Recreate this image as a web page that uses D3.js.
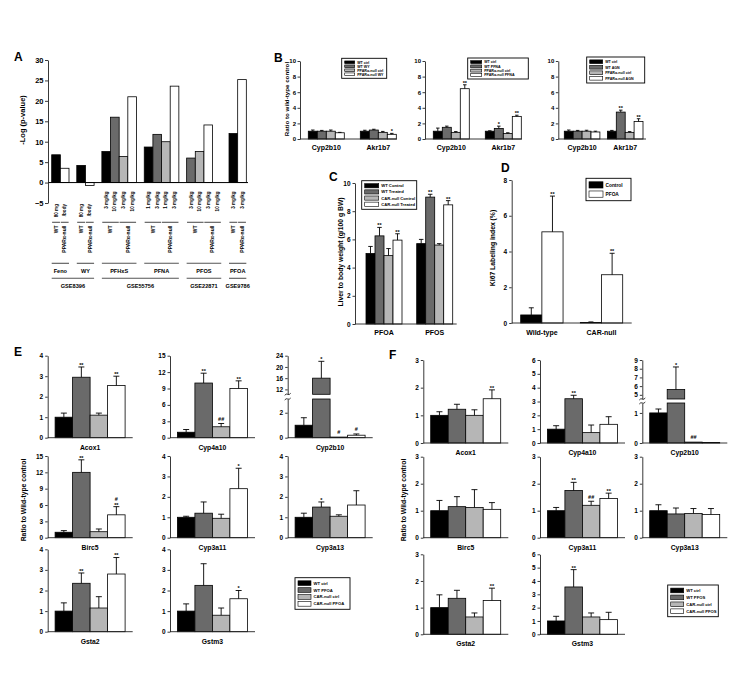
<!DOCTYPE html>
<html><head><meta charset="utf-8">
<script src="https://cdn.jsdelivr.net/npm/d3@7"></script>
<style>body{margin:0;background:#fff}</style>
</head><body><svg id="c" width="748" height="689"></svg>
<script>
// ---------------- DATA ----------------
// Panel A
const aCompounds = ["Feno","WY","PFHxS","PFNA","PFOS","PFOA"];
const aDatasetOf = ["GSE8396","GSE8396","GSE55756","GSE55756","GSE22871","GSE9786"];
const aSlotGeno = [["WT","PPARα-null"],["WT","PPARα-null"],["WT","WT","PPARα-null","PPARα-null"],["WT","WT","PPARα-null","PPARα-null"],["WT","WT","PPARα-null","PPARα-null"],["WT","PPARα-null"]];
const aDoses = [["80 mg","/body"],["80 mg","/body"],["3 mg/kg","10 mg/kg","3 mg/kg","10 mg/kg"],["1 mg/kg","3 mg/kg","1 mg/kg","3 mg/kg"],["3 mg/kg","10 mg/kg","3 mg/kg","10 mg/kg"],["3 mg/kg","3 mg/kg"]];
const aValues = [[6.8,3.5],[4.2,-0.7],[7.6,16,6.4,21],[8.7,11.8,10,23.6],[6,7.6,14.1,null],[12,25.2]];
const aSeries = [["k","w"],["k","w"],["k","d","l","w"],["k","d","l","w"],["d","l","w",null],["k","w"]];
const aTicks = [-5,0,5,10,15,20,25,30];

// Panel B
const bTreat = ["WY","PFNA","AGN"];
const bGenes = ["Cyp2b10","Akr1b7"];
const bMeans = [
  [[1.0,1.0,1.0,0.8],[1.0,1.15,0.85,0.6]],
  [[1.0,1.5,0.85,6.45],[1.0,1.35,0.7,2.9]],
  [[1.0,1.0,1.0,0.9],[1.0,3.45,0.85,2.25]]
];
const bErr = [
  [[0.15,0.1,0.15,0.05],[0.12,0.1,0.12,0.12]],
  [[0.4,0.15,0.1,0.5],[0.05,0.3,0.1,0.15]],
  [[0.15,0.1,0.12,0.1],[0.1,0.25,0.1,0.35]]
];
const bSig = [
  [["","","",""],["","","","*"]],
  [["","","","**"],["","*","","**"]],
  [["","","",""],["","**","","**"]]
];
const bTicks = [0,2,4,6,8,10];

// Panel C
const cCats = ["PFOA","PFOS"];
const cMeans = [[5.0,6.25,4.85,5.95],[5.7,9.0,5.6,8.45]];
const cErr = [[0.5,0.6,0.5,0.45],[0.3,0.2,0.1,0.3]];
const cSig = [["","**","","**"],["","**","","**"]];
const cLegend = ["WT Control","WT Treated","CAR-null Control","CAR-null Treated"];
const cTicks = [0,2,4,6,8,10];

// Panel D
const dCats = ["Wild-type","CAR-null"];
const dMeans = [[0.45,5.1],[0.03,2.7]];
const dErr = [[0.4,2.0],[0.03,1.2]];
const dSig = [["","**"],["","**"]];
const dLegend = ["Control","PFOA"];
const dTicks = [0,2,4,6,8];

// Panel E (PFOA)
const eGenes = ["Acox1","Cyp4a10","Cyp2b10","Birc5","Cyp3a11","Cyp3a13","Gsta2","Gstm3"];
const eMeans = [[1.0,2.95,1.1,2.55],[1.0,10.0,2.0,9.0],[1.0,16,0.05,0.2],[1.0,12,1.1,4.2],[1.0,1.2,0.95,2.4],[1.0,1.5,1.05,1.6],[1.0,2.35,1.15,2.8],[1.0,2.25,0.8,1.6]];
const eErr = [[0.2,0.5,0.1,0.45],[0.5,1.8,0.6,1.4],[0.6,6,0,0.1],[0.3,2.3,0.5,1.5],[0.05,0.55,0.2,1.0],[0.2,0.25,0.07,0.7],[0.4,0.5,0.55,0.8],[0.35,1.05,0.35,0.4]];
const eSig = [["","**","","**"],["","**","##","**"],["","*","#","#"],["","**","","#\n**"],["","","","*"],["","*","",""],["","**","","**"],["","","","*"]];
const eTicks = [[0,1,2,3,4],[0,3,6,9,12,15],null,[0,3,6,9,12,15],[0,1,2,3,4],[0,1,2,3,4],[0,1,2,3,4],[0,1,2,3,4]];
const eBrokenLowTicks = [0,2], eBrokenUpTicks = [12,16,20,24];
const eLegend = ["WT ctrl","WT PFOA","CAR-null ctrl","CAR-null PFOA"];

// Panel F (PFOS)
const fGenes = ["Acox1","Cyp4a10","Cyp2b10","Birc5","Cyp3a11","Cyp3a13","Gsta2","Gstm3"];
const fMeans = [[1.0,1.22,1.0,1.6],[1.0,3.2,0.75,1.35],[1.0,5.6,0.03,0.02],[1.0,1.15,1.12,1.05],[1.0,1.75,1.2,1.45],[1.0,0.88,0.9,0.86],[1.0,1.35,0.65,1.27],[1.0,3.55,1.3,1.1]];
const fErr = [[0.13,0.18,0.2,0.32],[0.25,0.25,0.55,0.55],[0.13,2.6,0,0],[0.38,0.37,0.66,0.25],[0.12,0.3,0.15,0.2],[0.22,0.22,0.18,0.22],[0.48,0.3,0.15,0.46],[0.35,1.3,0.3,0.55]];
const fSig = [["","","","**"],["","**","",""],["","*","##",""],["","","",""],["","**","##","**"],["","","",""],["","","","**"],["","**","",""]];
const fTicks = [[0,1,2,3],[0,1,2,3,4,5,6],null,[0,1,2,3],[0,1,2,3],[0,1,2,3],[0,1,2,3],[0,1,2,3,4,5,6]];
const fBrokenLowTicks = [0,1], fBrokenUpTicks = [5,6,7,8,9];
const fLegend = ["WT ctrl","WT PFOS","CAR-null ctrl","CAR-null PFOS"];

const series4 = ["k","d","l","w"];

// ---------------- DRAWING ----------------
const FONT = '"Liberation Sans", Arial, Helvetica, sans-serif';
const svg = d3.select("#c");
svg.append("rect").attr("width",748).attr("height",689).attr("fill","#fff");
const fill = d3.scaleOrdinal().domain(["k","d","l","w"]).range(["#000000","#6a6a6a","#b6b6b6","#ffffff"]);
const AX = "#222";

function txt(g, x, y, s, fs, anchor, rot) {
  const t = g.append("text").attr("font-family",FONT).attr("font-weight","bold")
    .attr("font-size",fs).attr("text-anchor",anchor||"middle").attr("fill","#000").text(s);
  if (rot) t.attr("transform",`translate(${x},${y}) rotate(${rot})`); else t.attr("x",x).attr("y",y);
  return t;
}
function hline(g,x1,x2,y,c,w){g.append("line").attr("x1",x1).attr("x2",x2).attr("y1",y).attr("y2",y).attr("stroke",c||AX).attr("stroke-width",w||0.9);}
function yAxis(g, y, x0, ticks, fs, pad) {
  const a = g.append("g").attr("transform",`translate(${x0},0)`)
    .call(d3.axisLeft(y).tickValues(ticks).tickSize(2.5).tickSizeOuter(0).tickPadding(pad==null?2:pad).tickFormat(d3.format("d")));
  a.select(".domain").attr("stroke",AX).attr("stroke-width",0.9);
  a.selectAll(".tick line").attr("stroke",AX).attr("stroke-width",0.9);
  a.selectAll(".tick text").attr("font-family",FONT).attr("font-weight","bold").attr("font-size",fs).attr("fill","#000");
  return a;
}
function sigText(g, cx, yTop, s, fs) {
  if (!s) return;
  const lines = s.split("\n").reverse();
  let yy = yTop;
  lines.forEach(l => {
    const isHash = l.indexOf("#")>=0;
    const base = isHash ? yy - 1.2 : yy + fs*0.25;
    txt(g, cx, base, l, fs);
    yy -= isHash ? fs*0.85 : fs*0.55;
  });
}
function drawBars(g, data, xOf, bw, y, capW, sigFs) {
  data.forEach(d => {
    if (d.v == null) return;
    const x = xOf(d);
    g.append("rect").attr("x",x).attr("width",bw)
      .attr("y",y(Math.max(0,d.v))).attr("height",Math.max(0.01,Math.abs(y(d.v)-y(0))))
      .attr("fill",fill(d.s)).attr("stroke","#000").attr("stroke-width",0.8);
    const cx = x + bw/2;
    let top = y(d.v);
    if (d.e > 0) {
      top = y(d.v + d.e);
      g.append("line").attr("x1",cx).attr("x2",cx).attr("y1",y(d.v)).attr("y2",top).attr("stroke","#000").attr("stroke-width",0.9);
      g.append("line").attr("x1",cx-capW/2).attr("x2",cx+capW/2).attr("y1",top).attr("y2",top).attr("stroke","#000").attr("stroke-width",0.9);
    }
    sigText(g, cx, top - 1.5, d.sig, sigFs);
  });
}
function legend(g, x, y, w, h, labels, keys, fs, sw) {
  const lg = g.append("g");
  lg.append("rect").attr("x",x).attr("y",y).attr("width",w).attr("height",h).attr("fill","#fff").attr("stroke","#000").attr("stroke-width",0.9);
  const rows = labels.length, rh = (h-4)/rows, sh = rh*0.68;
  labels.forEach((l,i) => {
    const cy = y + 2 + rh*(i+0.5);
    lg.append("rect").attr("x",x+3).attr("y",cy-sh/2).attr("width",sw).attr("height",sh)
      .attr("fill",fill(keys[i])).attr("stroke","#000").attr("stroke-width",0.6);
    txt(lg, x+3+sw+2.5, cy+fs*0.35, l, fs, "start");
  });
}
// grouped chart used in B, C, D
function groupedChart(o) {
  const g = svg.append("g");
  const y = d3.scaleLinear().domain([0, o.ticks[o.ticks.length-1]]).range([o.y1, o.y0]);
  const xo = d3.scaleBand().domain(o.cats).range([o.bStart, o.bEnd]).paddingInner(o.pad);
  const xi = d3.scaleBand().domain(o.series).range([0, xo.bandwidth()]);
  const data = [];
  o.cats.forEach((c,ci) => o.series.forEach((s,si) => data.push({cat:c, s, v:o.means[ci][si], e:o.errs[ci][si], sig:o.sigs[ci][si]})));
  drawBars(g, data, d => xo(d.cat)+xi(d.s), xi.bandwidth(), y, o.capW, o.sigFs);
  hline(g, o.x0, o.xEnd, o.y1);
  yAxis(g, y, o.x0, o.ticks, o.tickFs, o.tickPad);
  o.cats.forEach(c => txt(g, xo(c)+xo.bandwidth()/2, o.catY, c, o.catFs));
  return g;
}

// ---- Panel A ----
(function(){
  const g = svg.append("g");
  txt(g, 14, 61, "A", 12, "start");
  const y = d3.scaleLinear().domain([-5,30]).range([203,60]);
  const slots = []; const spans = []; let pos = 0;
  aCompounds.forEach((c,gi) => {
    const n = aValues[gi].length;
    aValues[gi].forEach((v,si) => slots.push({c, gi, p:pos+si, v, s:aSeries[gi][si], dose:aDoses[gi][si], geno:aSlotGeno[gi][si], e:0, sig:""}));
    spans.push([pos, pos+n]);
    pos += n + 0.9;
  });
  const x = d3.scaleLinear().domain([0, pos-0.9]).range([51.7, 51.7+(pos-0.9)*8.65]);
  const bw = x(1)-x(0);
  drawBars(g, slots, d => x(d.p), bw, y, 0, 6);
  hline(g, 48, 248, y(0), "#000", 1);
  const a = yAxis(g, y, 48, aTicks, 7.5);
  a.selectAll(".tick line").attr("x2",-3);
  txt(g, 25, 120, "-Log (p-value)", 7.5, "middle", -90);
  // dose labels
  slots.forEach(d => {
    const top = d.dose.indexOf("/body")>=0 || d.dose==="80 mg" ? 204 : 191.5;
    txt(g, x(d.p+0.5)+1.6, top, d.dose, 4.6, "end", -90);
  });
  // genotype subgroups
  aCompounds.forEach((c,gi) => {
    const genos = aSlotGeno[gi]; const s0 = spans[gi][0];
    const uniq = [...new Set(genos)];
    uniq.forEach(ge => {
      const idx = genos.map((q,i)=>q===ge?i:-1).filter(i=>i>=0);
      const a0 = s0+idx[0], a1 = s0+idx[idx.length-1]+1;
      hline(g, x(a0)+0.4, x(a1)-0.4, 222.3, "#555", 1.1);
      txt(g, x((a0+a1)/2)+1.8, 225.5, ge, 5, "end", -90);
    });
    hline(g, x(spans[gi][0]), x(spans[gi][1]), 263.3, "#555", 1.1);
    txt(g, x((spans[gi][0]+spans[gi][1])/2), 272.5, c, 5.6);
  });
  // datasets
  const ds = [...new Set(aDatasetOf)];
  ds.forEach(d => {
    const gis = aDatasetOf.map((q,i)=>q===d?i:-1).filter(i=>i>=0);
    const a0 = spans[gis[0]][0], a1 = spans[gis[gis.length-1]][1];
    hline(g, x(a0), Math.min(x(a1), 248), 278.3, "#555", 1.1);
    txt(g, (x(a0)+x(a1))/2, 287.5, d, 5.6);
  });
})();

// ---- Panel B ----
(function(){
  txt(svg, 274, 62, "B", 12, "start");
  const lay = [
    {x0:300, xEnd:397, bStart:308.3, bEnd:396.3, pad:0.308, lg:[341.7,58.3,45,20,10]},
    {x0:425, xEnd:522, bStart:433.3, bEnd:521.3, pad:0.308, lg:[467.7,58,60.6,21,11]},
    {x0:558.3, xEnd:646, bStart:564.3, bEnd:643, pad:0.174, lg:[586.7,57,58,26,13]}
  ];
  bTreat.forEach((t,i) => {
    const L = lay[i];
    const g = groupedChart({x0:L.x0, xEnd:L.xEnd, y0:61, y1:139, ticks:bTicks, cats:bGenes, series:series4,
      means:bMeans[i], errs:bErr[i], sigs:bSig[i], bStart:L.bStart, bEnd:L.bEnd, pad:L.pad,
      capW:3.5, sigFs:5.5, tickFs:6, tickPad:1.5, catFs:7, catY:150});
    legend(g, L.lg[0], L.lg[1], L.lg[2], L.lg[3], ["WT ctrl","WT "+t,"PPARα-null ctrl","PPARα-null "+t], series4, 3.6, L.lg[4]);
  });
  txt(svg, 288.5, 99, "Ratio to wild-type control", 6.2, "middle", -90);
})();

// ---- Panel C ----
(function(){
  txt(svg, 329, 181, "C", 12, "start");
  const g = groupedChart({x0:355, xEnd:456.7, y0:183, y1:324, ticks:cTicks, cats:cCats, series:series4,
    means:cMeans, errs:cErr, sigs:cSig, bStart:366, bEnd:452.7, pad:0.29,
    capW:4.5, sigFs:5.5, tickFs:6.5, catFs:7, catY:334.5});
  legend(g, 361.7, 180.7, 55, 28.6, cLegend, series4, 4.2, 14);
  txt(svg, 343, 252, "Liver to body weight (g/100 g BW)", 6.8, "middle", -90);
})();

// ---- Panel D ----
(function(){
  txt(svg, 501, 171.5, "D", 12, "start");
  const g = groupedChart({x0:511.7, xEnd:631.7, y0:180, y1:323, ticks:dTicks, cats:dCats, series:["k","w"],
    means:dMeans, errs:dErr, sigs:dSig, bStart:520.7, bEnd:622.7, pad:0.29,
    capW:5, sigFs:5.5, tickFs:6.5, catFs:7, catY:334.5});
  legend(g, 586, 178.3, 45, 22.4, dLegend, ["k","w"], 4.8, 14);
  txt(svg, 495, 248, "Ki67 Labeling index (%)", 6.8, "middle", -90);
})();

// ---- Panels E and F ----
function smallChart(g, x0, y0, y1, gene, means, errs, sigs, ticks) {
  const y = d3.scaleLinear().domain([0, ticks[ticks.length-1]]).range([y1, y0]);
  const xb = d3.scaleBand().domain(series4).range([x0+7.4, x0+77.4]);
  const data = series4.map((s,i) => ({s, v:means[i], e:errs[i], sig:sigs[i]}));
  drawBars(g, data, d => xb(d.s), xb.bandwidth(), y, 6, 5.5);
  hline(g, x0, x0+85, y1);
  yAxis(g, y, x0, ticks, 6.5);
  txt(g, x0+42.4, y1+12, gene, 6.8);
}
function brokenChart(g, x0, y0, y1, gene, means, errs, sigs, lowTicks, lowMax, lowTopOff, upTicks, upMin, upBotOff) {
  const yl = d3.scaleLinear().domain([0, lowMax]).range([y1, y1-lowTopOff]);
  const yu = d3.scaleLinear().domain([upMin, upTicks[upTicks.length-1]]).range([y1-upBotOff, y0]);
  const xb = d3.scaleBand().domain(series4).range([x0+7.4, x0+77.4]);
  const bw = xb.bandwidth();
  series4.forEach((s,i) => {
    const v = means[i], e = errs[i], x = xb(s), cx = x+bw/2;
    let topPx;
    if (v <= lowMax) {
      g.append("rect").attr("x",x).attr("width",bw).attr("y",yl(v)).attr("height",Math.max(0.01,yl(0)-yl(v)))
        .attr("fill",fill(s)).attr("stroke","#000").attr("stroke-width",0.8);
      topPx = yl(v + e);
      if (e > 0) {
        g.append("line").attr("x1",cx).attr("x2",cx).attr("y1",yl(v)).attr("y2",topPx).attr("stroke","#000").attr("stroke-width",0.9);
        g.append("line").attr("x1",cx-3).attr("x2",cx+3).attr("y1",topPx).attr("y2",topPx).attr("stroke","#000").attr("stroke-width",0.9);
      }
    } else {
      g.append("rect").attr("x",x).attr("width",bw).attr("y",yl(lowMax)).attr("height",yl(0)-yl(lowMax))
        .attr("fill",fill(s)).attr("stroke","#000").attr("stroke-width",0.8);
      g.append("rect").attr("x",x).attr("width",bw).attr("y",yu(v)).attr("height",yu(upMin)-yu(v))
        .attr("fill",fill(s)).attr("stroke","#000").attr("stroke-width",0.8);
      topPx = yu(v + e);
      g.append("line").attr("x1",cx).attr("x2",cx).attr("y1",yu(v)).attr("y2",topPx).attr("stroke","#000").attr("stroke-width",0.9);
      g.append("line").attr("x1",cx-3).attr("x2",cx+3).attr("y1",topPx).attr("y2",topPx).attr("stroke","#000").attr("stroke-width",0.9);
    }
    sigText(g, cx, topPx - 1.5, sigs[i], 5.5);
  });
  hline(g, x0, x0+85, y1);
  yAxis(g, yl, x0, lowTicks, 6.5);
  yAxis(g, yu, x0, upTicks, 6.5);
  // break marks
  [yl(lowMax), yu(upMin)].forEach(py => {
    g.append("path").attr("d",`M${x0-3},${py+1} q1.5,-2 3,-1 t3,-1`).attr("fill","none").attr("stroke",AX).attr("stroke-width",0.9);
  });
  txt(g, x0+42.4, y1+12, gene, 6.8);
}
function genePanel(letter, lx, ly, cols, rows, genes, means, errs, sigs, ticks, brk, lg, lgLabels, ylx) {
  const g = svg.append("g");
  txt(g, lx, ly, letter, 12, "start");
  genes.forEach((gene,i) => {
    const r = Math.floor(i/3), c = i%3;
    if (ticks[i]) smallChart(g, cols[c], rows[r][0], rows[r][1], gene, means[i], errs[i], sigs[i], ticks[i]);
    else brokenChart(g, cols[c], rows[r][0], rows[r][1], gene, means[i], errs[i], sigs[i], brk.lowTicks, brk.lowMax, brk.lowTopOff, brk.upTicks, brk.upMin, brk.upBotOff);
  });
  legend(g, lg[0], lg[1], lg[2], lg[3], lgLabels, series4, 4.2, 13);
  txt(g, ylx, 500, "Ratio to Wild-type control", 6.8, "middle", -90);
}
genePanel("E", 14, 356, [47.7,170,287.7], [[355.7,437.7],[456,537.7],[549.3,631.7]], eGenes, eMeans, eErr, eSig, eTicks,
  {lowTicks:eBrokenLowTicks, lowMax:3.1, lowTopOff:38.7, upTicks:eBrokenUpTicks, upMin:10.25, upBotOff:43.4},
  [295,577.7,55,31.6], eLegend, 26);
genePanel("F", 389, 359, [423.3,540,642.3], [[360,443],[456.7,537.7],[554.3,634.3]], fGenes, fMeans, fErr, fSig, fTicks,
  {lowTicks:fBrokenLowTicks, lowMax:1.33, lowTopOff:40, upTicks:fBrokenUpTicks, upMin:4.52, upBotOff:44},
  [667.7,585,50.6,31.7], fLegend, 406);
</script></body></html>
